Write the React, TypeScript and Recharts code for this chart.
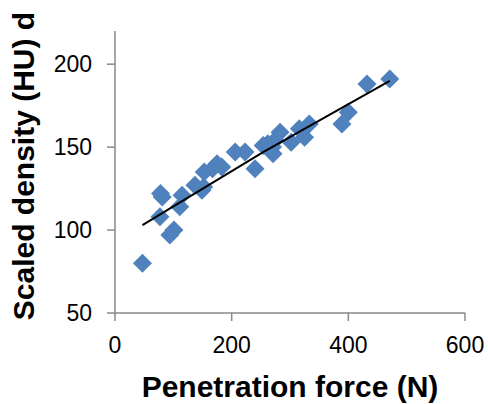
import { ScatterChart, Scatter, XAxis, YAxis } from "recharts";

// penetration force (N) vs scaled density (HU)
const force = [
  47, 77, 78, 81, 94, 101, 111, 115, 137, 149, 152, 153, 167, 175, 183, 206,
  223, 240, 254, 262, 270, 271, 274, 283, 302, 316, 325, 333, 389, 400, 432, 471,
];
const density = [
  80, 108, 122, 120, 97, 100, 114, 121, 127, 124, 126, 135, 137, 140, 138, 147,
  147, 137, 151, 152, 150, 146, 154, 159, 153, 161, 156, 164, 164, 171, 188, 191,
];

// fitted trend, read at its ends and middle
const trendForce = [47, 254, 471];
const trendDensity = [103, 147, 190];

const xTicks = [0, 200, 400, 600];
const yTicks = [50, 100, 150, 200];

const points = force.map((x, i) => ({ x, y: density[i] }));
const trend = trendForce.map((x, i) => ({ x, y: trendDensity[i] }));

const FONT = "'Liberation Sans', Arial, Helvetica, sans-serif";
const AXIS = "#888888";

const Diamond = (props: any) => {
  const { cx, cy } = props;
  const r = 9.5;
  return (
    <polygon
      points={`${cx},${cy - r} ${cx + r},${cy} ${cx},${cy + r} ${cx - r},${cy}`}
      fill="#4F81BD"
    />
  );
};

export default function App() {
  return (
    <div style={{ position: "absolute", left: 0, top: 0, background: "#fff" }}>
      <ScatterChart
        width={488}
        height={404}
        margin={{ top: 31, right: 23, bottom: 0, left: 0 }}
      >
        <XAxis
          type="number"
          dataKey="x"
          domain={[0, 600]}
          ticks={xTicks}
          height={91}
          axisLine={{ stroke: AXIS, strokeWidth: 1.5 }}
          tickLine={{ stroke: AXIS, strokeWidth: 1.5 }}
          tickSize={8}
          tickMargin={16}
          tick={{ fontSize: 23, fill: "#000", fontFamily: FONT }}
          label={{
            content: ({ viewBox }: any) => (
              <text
                x={viewBox.x + viewBox.width / 2}
                y={397}
                textAnchor="middle"
                fontSize={30}
                fontWeight="bold"
                fontFamily={FONT}
                fill="#000"
              >
                Penetration force (N)
              </text>
            ),
          }}
        />
        <YAxis
          type="number"
          dataKey="y"
          domain={[50, 220]}
          ticks={yTicks}
          width={115}
          allowDataOverflow
          axisLine={{ stroke: AXIS, strokeWidth: 1.5 }}
          tickLine={{ stroke: AXIS, strokeWidth: 1.5 }}
          tickSize={8}
          tickMargin={15}
          tick={{ fontSize: 23, fill: "#000", fontFamily: FONT }}
          label={{
            content: () => (
              <text
                x={34}
                y={166}
                transform="rotate(-90, 34, 166)"
                textAnchor="middle"
                fontSize={30}
                fontWeight="bold"
                fontFamily={FONT}
                fill="#000"
              >
                Scaled density (HU) d
              </text>
            ),
          }}
        />
        <Scatter data={points} shape={Diamond} isAnimationActive={false} />
        <Scatter
          data={trend}
          line={{ stroke: "#000", strokeWidth: 2 }}
          shape={() => <g />}
          isAnimationActive={false}
        />
      </ScatterChart>
    </div>
  );
}
